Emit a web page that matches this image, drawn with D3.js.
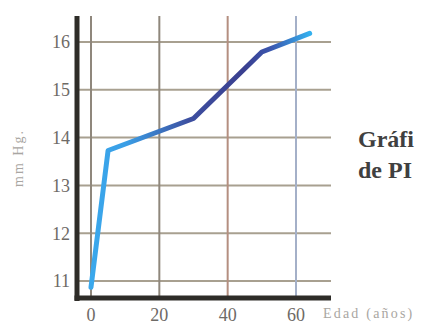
<!DOCTYPE html>
<html><head><meta charset="utf-8">
<script src="https://cdn.jsdelivr.net/npm/d3@7"></script>
<style>html,body{margin:0;padding:0;background:#fff;}svg{display:block;}</style>
</head><body>
<script>
const ages = [0, 5, 30, 50, 64];
const pressure = [10.87, 13.73, 14.4, 15.79, 16.18];
const xTicks = [0, 20, 40, 60];
const yTicks = [11, 12, 13, 14, 15, 16];
const xGridColors = ["#8f877c", "#8f877c", "#b48f80", "#a4b0c8"];
const yLabel = "mm Hg.";
const xLabel = "Edad (años)";
const sideText = ["Gráfi", "de PI"];

(function () {
const W = 428, H = 327;
const svg = d3.select("body").append("svg").attr("width", W).attr("height", H);
const x = d3.scaleLinear().domain([0, 60]).range([91, 296]);
const y = d3.scaleLinear().domain([11, 16]).range([281, 42]);
const pL = 77, pR = 331, pT = 16, pB = 298;

// horizontal grid
svg.append("g").selectAll("line").data(yTicks).join("line")
  .attr("x1", pL).attr("x2", pR)
  .attr("y1", d => y(d)).attr("y2", d => y(d))
  .attr("stroke", "#a8a090").attr("stroke-width", 2);
// vertical grid
svg.append("g").selectAll("line").data(xTicks).join("line")
  .attr("x1", d => x(d)).attr("x2", d => x(d))
  .attr("y1", pT).attr("y2", pB)
  .attr("stroke", (d, i) => xGridColors[i]).attr("stroke-width", 2);

// axes (thick)
svg.append("line").attr("x1", pL).attr("x2", pL).attr("y1", pT).attr("y2", pB + 3)
  .attr("stroke", "#2e2c28").attr("stroke-width", 5);
svg.append("line").attr("x1", pL - 2.5).attr("x2", pR).attr("y1", pB).attr("y2", pB)
  .attr("stroke", "#2e2c28").attr("stroke-width", 5);

// tick labels
svg.append("g").selectAll("text").data(yTicks).join("text")
  .attr("x", 70).attr("y", d => y(d)).attr("dy", "0.35em")
  .attr("text-anchor", "end").attr("font-family", "Liberation Serif, serif")
  .attr("font-size", 18).attr("fill", "#6e6a66").text(d => d);
svg.append("g").selectAll("text").data(xTicks).join("text")
  .attr("x", d => x(d)).attr("y", 321)
  .attr("text-anchor", "middle").attr("font-family", "Liberation Serif, serif")
  .attr("font-size", 18).attr("fill", "#6e6a66").text(d => d);

// axis titles
svg.append("text").attr("transform", "translate(23,158) rotate(-90)")
  .attr("text-anchor", "middle").attr("font-family", "Liberation Serif, serif")
  .attr("font-size", 14).attr("letter-spacing", 2).attr("fill", "#a9a6a2").text(yLabel);
svg.append("text").attr("x", 323).attr("y", 318)
  .attr("font-family", "Liberation Serif, serif")
  .attr("font-size", 14).attr("letter-spacing", 2.2).attr("fill", "#a9a6a2").text(xLabel);

// side text
svg.append("g").selectAll("text").data(sideText).join("text")
  .attr("x", 358).attr("y", (d, i) => 147 + i * 31)
  .attr("font-family", "Liberation Serif, serif").attr("font-weight", "bold")
  .attr("font-size", 24).attr("fill", "#404040").text(d => d);

// gradient line
const defs = svg.append("defs");
const grad = defs.append("linearGradient").attr("id", "lg")
  .attr("gradientUnits", "userSpaceOnUse")
  .attr("x1", x(0)).attr("x2", x(64)).attr("y1", 0).attr("y2", 0);
[[0, "#3aa8ec"], [0.16, "#3a9ee6"], [0.45, "#3d4fa0"], [0.7, "#3a3f8f"], [0.82, "#3b56ae"], [1, "#34b0ee"]]
  .forEach(([o, c]) => grad.append("stop").attr("offset", o).attr("stop-color", c));

const line = d3.line().x(d => x(d[0])).y(d => y(d[1]));
svg.append("path").datum(ages.map((a, i) => [a, pressure[i]]))
  .attr("d", line).attr("fill", "none").attr("stroke", "url(#lg)")
  .attr("stroke-width", 5).attr("stroke-linejoin", "round").attr("stroke-linecap", "round");
})();
</script>
</body></html>
